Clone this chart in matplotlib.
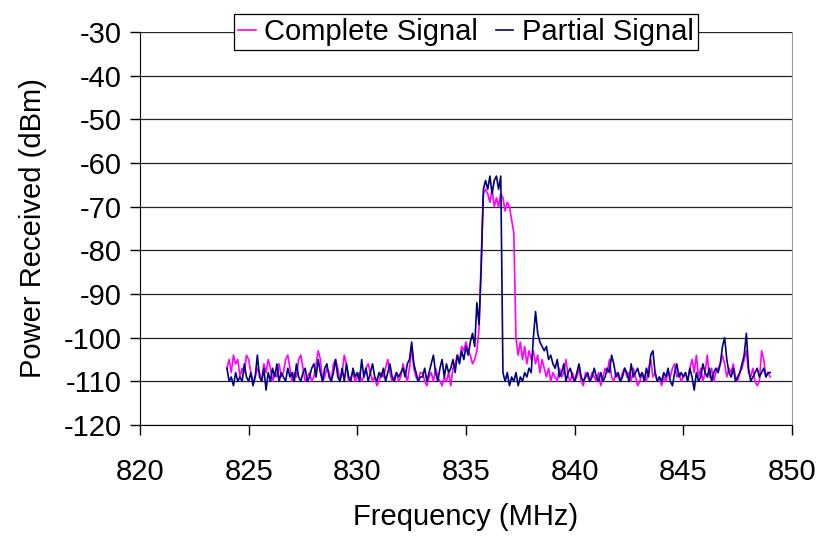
import numpy as np
import matplotlib
matplotlib.use("Agg")
import matplotlib.pyplot as plt

plt.rcParams['font.family'] = ['Liberation Sans', 'DejaVu Sans']
plt.rcParams['axes.unicode_minus'] = False

# Frequency sweep (MHz), 0.1 MHz step from 824.0 to 849.0
freq = np.round(np.arange(824.0, 849.05, 0.1), 1)

complete_signal = [
    -107, -105, -108, -104, -106, -105, -109, -107, -108, -104,
    -105, -108, -110, -109, -107, -108, -110, -106, -108, -105,
    -107, -110, -108, -109, -106, -109, -108, -105, -104, -107,
    -110, -108, -109, -105, -104, -107, -110, -109, -108, -110,
    -109, -106, -103, -105, -110, -109, -107, -108, -110, -106,
    -105, -107, -110, -108, -104, -106, -110, -109, -108, -110,
    -109, -108, -110, -109, -107, -106, -108, -110, -109, -111,
    -110, -108, -109, -107, -105, -108, -110, -109, -108, -110,
    -109, -106, -108, -110, -107, -102, -107, -109, -110, -108,
    -108, -110, -111, -109, -108, -110, -107, -109, -110, -111,
    -109, -110, -108, -111, -107, -106, -104, -105, -102, -103,
    -101, -103, -104, -106, -105, -103, -98, -82, -67, -66,
    -67, -69, -66, -70, -68, -70, -67, -68, -71, -69,
    -70, -73, -76, -100, -104, -101, -105, -102, -106, -103,
    -105, -103, -106, -104, -108, -105, -107, -109, -107, -110,
    -108, -109, -110, -107, -109, -108, -105, -109, -110, -108,
    -110, -109, -107, -110, -111, -108, -109, -110, -108, -109,
    -110, -108, -111, -109, -107, -108, -105, -109, -110, -108,
    -109, -110, -108, -107, -109, -108, -110, -107, -109, -111,
    -110, -108, -109, -110, -107, -105, -109, -108, -110, -109,
    -111, -109, -110, -108, -109, -107, -106, -109, -108, -110,
    -109, -108, -110, -107, -105, -108, -104, -109, -107, -110,
    -108, -104, -109, -107, -110, -108, -107, -106, -104, -106,
    -109, -107, -108, -106, -109, -110, -108, -107, -105, -103,
    -108, -109, -107, -110, -111, -110, -103, -105, -109, -108,
    -109,
]

partial_signal = [
    -107, -110, -109, -111, -108, -110, -109, -110, -106, -109,
    -110, -108, -111, -109, -104, -109, -110, -107, -112, -108,
    -110, -107, -109, -106, -110, -108, -109, -110, -107, -109,
    -108, -110, -106, -109, -110, -108, -107, -110, -109, -107,
    -106, -109, -105, -108, -110, -107, -106, -109, -110, -108,
    -105, -109, -110, -107, -110, -106, -109, -110, -107, -109,
    -108, -110, -105, -109, -107, -110, -108, -106, -109, -110,
    -108, -109, -107, -110, -108, -106, -109, -110, -108, -109,
    -108, -107, -109, -106, -105, -101, -106, -108, -110, -109,
    -109, -107, -110, -108, -106, -104, -108, -110, -107, -105,
    -109, -106, -108, -107, -105, -108, -104, -106, -103, -105,
    -102, -104, -101, -99, -102, -92, -97, -84, -66, -64,
    -66, -63, -67, -64, -63, -66, -63, -108, -110, -108,
    -111, -109, -110, -108, -111, -109, -110, -108, -109, -107,
    -108, -100, -94, -99, -101, -102, -103, -102, -105, -104,
    -106, -107, -105, -109, -108, -106, -110, -108, -107, -109,
    -110, -108, -106, -109, -110, -109, -108, -110, -109, -107,
    -109, -110, -108, -110, -109, -107, -108, -104, -106, -109,
    -108, -110, -109, -107, -108, -110, -106, -109, -108, -107,
    -109, -108, -110, -107, -109, -104, -103, -108, -110, -109,
    -110, -108, -109, -107, -110, -111, -108, -106, -109, -108,
    -109, -108, -110, -107, -109, -112, -108, -110, -109, -106,
    -108, -109, -107, -110, -108, -107, -108, -106, -102, -100,
    -105, -108, -109, -107, -110, -109, -108, -106, -104, -99,
    -107, -110, -109, -108, -107, -109, -108, -107, -109, -108,
    -108,
]

x_ticks = [820, 825, 830, 835, 840, 845, 850]
y_ticks = [-120, -110, -100, -90, -80, -70, -60, -50, -40, -30]

fig = plt.figure(figsize=(8.17, 5.39), dpi=100)
ax = fig.add_axes([140/817, 1 - 425/539, (792-140)/817, (425-32)/539])

ax.plot(freq, complete_signal, color='#FF00FF', lw=1.2, label='Complete Signal')
ax.plot(freq, partial_signal, color='#000080', lw=1.2, label='Partial Signal')

ax.set_xlim(820, 850)
ax.set_ylim(-120, -30)
ax.set_xticks(x_ticks)
ax.set_yticks(y_ticks)
ax.yaxis.grid(True, color='#222222', lw=0.9)
ax.set_axisbelow(True)

ax.spines['top'].set_visible(False)
ax.spines['right'].set_color('#999999')
ax.spines['left'].set_color('black')
ax.spines['bottom'].set_color('black')

ax.tick_params(axis='both', direction='out', length=7, width=1, labelsize=21)
ax.tick_params(axis='x', pad=17)
ax.tick_params(axis='y', pad=6)

ax.set_xlabel('Frequency (MHz)', fontsize=21, labelpad=12)
ax.set_ylabel('Power Received (dBm)', fontsize=21, labelpad=12)

leg = ax.legend(loc='center', bbox_to_anchor=(0.5, 1.0), ncol=2, fontsize=21,
                frameon=True, fancybox=False, handlelength=0.6, handletextpad=0.3,
                columnspacing=0.6, borderpad=0.15, borderaxespad=0)
leg.get_frame().set_edgecolor('black')
leg.get_frame().set_linewidth(0.9)
leg.get_frame().set_alpha(1)

fig.savefig('out.png', dpi=100)
